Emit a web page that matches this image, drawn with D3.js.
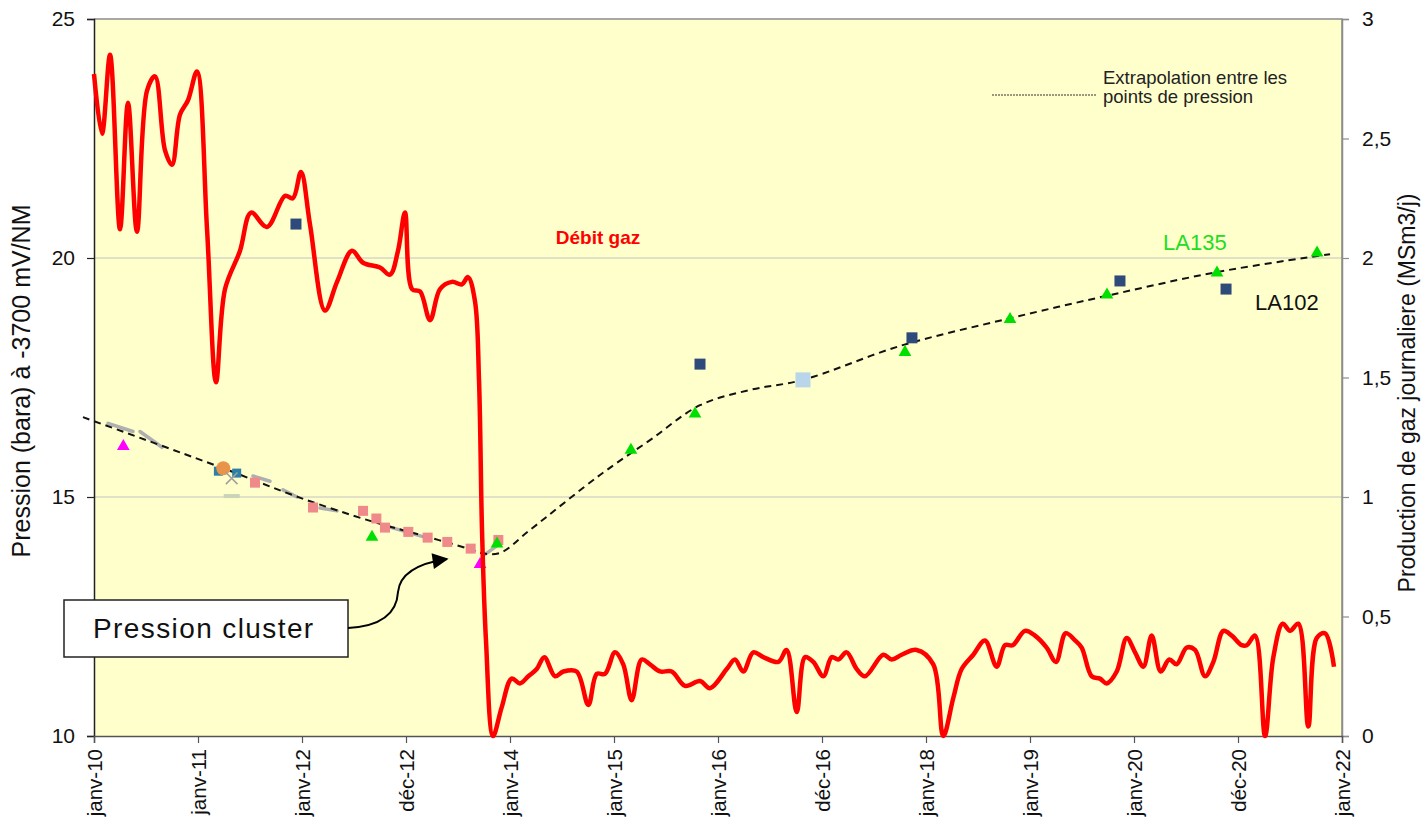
<!DOCTYPE html>
<html>
<head>
<meta charset="utf-8">
<script src="https://cdn.jsdelivr.net/npm/d3@7"></script>
<style>
  html, body { margin: 0; padding: 0; background: #fff; }
  svg { display: block; }
  text { font-family: "Liberation Sans", Arial, sans-serif; }
</style>
</head>
<body>
<svg id="chart" width="1422" height="824"></svg>
<script>
// Time is expressed in decimal years.
const xTickLabels = ["janv-10","janv-11","janv-12","déc-12","janv-14","janv-15","janv-16","déc-16","janv-18","janv-19","janv-20","déc-20","janv-22"];
const leftTicks = [10, 15, 20, 25];
const rightTicks = [0, 0.5, 1, 1.5, 2, 2.5, 3];

// Daily gas production (MSm3/j), right axis
const gasRate = [
  [2010.000, 2.77], [2010.077, 2.52], [2010.154, 2.85], [2010.250, 2.12], [2010.327, 2.65],
  [2010.413, 2.11], [2010.510, 2.70], [2010.587, 2.76], [2010.683, 2.45], [2010.750, 2.39],
  [2010.827, 2.60], [2010.904, 2.66], [2010.990, 2.78], [2011.087, 2.12], [2011.173, 1.48],
  [2011.260, 1.87], [2011.404, 2.03], [2011.510, 2.19], [2011.663, 2.13], [2011.837, 2.26],
  [2011.913, 2.25], [2011.990, 2.36], [2012.077, 2.14], [2012.221, 1.78], [2012.337, 1.90],
  [2012.481, 2.03], [2012.587, 1.98], [2012.750, 1.96], [2012.846, 1.93], [2012.923, 2.03],
  [2012.990, 2.19], [2013.058, 1.87], [2013.135, 1.86], [2013.231, 1.74], [2013.327, 1.87],
  [2013.442, 1.90], [2013.538, 1.89], [2013.596, 1.92], [2013.663, 1.82], [2013.702, 1.49],
  [2013.731, 0.86], [2013.769, 0.40], [2013.837, 0.00], [2013.920, 0.12], [2014.016, 0.24],
  [2014.096, 0.22], [2014.176, 0.25], [2014.257, 0.28], [2014.330, 0.33], [2014.433, 0.25],
  [2014.513, 0.27], [2014.641, 0.27], [2014.753, 0.13], [2014.834, 0.26], [2014.913, 0.26],
  [2015.010, 0.35], [2015.089, 0.30], [2015.170, 0.15], [2015.266, 0.32], [2015.346, 0.30],
  [2015.442, 0.27], [2015.555, 0.27], [2015.683, 0.21], [2015.827, 0.23], [2015.923, 0.20],
  [2016.084, 0.28], [2016.163, 0.32], [2016.243, 0.27], [2016.339, 0.35], [2016.436, 0.33],
  [2016.580, 0.31], [2016.660, 0.36], [2016.757, 0.10], [2016.837, 0.33], [2016.916, 0.31],
  [2017.013, 0.25], [2017.093, 0.33], [2017.157, 0.32], [2017.237, 0.35], [2017.334, 0.28],
  [2017.413, 0.25], [2017.589, 0.34], [2017.670, 0.32], [2017.766, 0.34], [2017.910, 0.36],
  [2018.070, 0.30], [2018.166, 0.00], [2018.263, 0.16], [2018.343, 0.28], [2018.455, 0.34],
  [2018.567, 0.40], [2018.679, 0.29], [2018.760, 0.38], [2018.834, 0.38], [2018.952, 0.44],
  [2019.048, 0.42], [2019.160, 0.37], [2019.250, 0.31], [2019.343, 0.43], [2019.433, 0.40],
  [2019.497, 0.37], [2019.593, 0.25], [2019.673, 0.24], [2019.737, 0.22], [2019.834, 0.27],
  [2019.930, 0.41], [2020.010, 0.35], [2020.090, 0.29], [2020.170, 0.42], [2020.257, 0.27],
  [2020.339, 0.32], [2020.410, 0.30], [2020.507, 0.37], [2020.587, 0.36], [2020.683, 0.25],
  [2020.763, 0.31], [2020.859, 0.44], [2020.940, 0.42], [2021.036, 0.38], [2021.084, 0.38],
  [2021.164, 0.42], [2021.260, 0.00], [2021.340, 0.33], [2021.430, 0.47], [2021.500, 0.44],
  [2021.580, 0.47], [2021.676, 0.04], [2021.757, 0.41], [2021.837, 0.43], [2021.923, 0.29]
];

// Pressure extrapolation between measurement points (bara), left axis
const extrapolation = [
  [2009.894, 16.67], [2011.243, 15.60], [2011.949, 15.01], [2012.686, 14.48], [2013.199, 14.17],
  [2013.615, 13.91], [2013.743, 13.82], [2013.904, 13.83], [2014.192, 14.31], [2014.865, 15.46],
  [2015.346, 16.19], [2015.827, 16.92], [2016.308, 17.24], [2016.817, 17.45], [2017.750, 18.16],
  [2018.808, 18.74], [2019.740, 19.21], [2020.808, 19.71], [2021.885, 20.08]
];

// Well pressure measurements (bara)
const la102 = [[2011.942, 20.71], [2015.827, 17.78], [2017.865, 18.33], [2019.865, 19.52], [2020.885, 19.35]];
const la135 = [[2012.673, 14.18], [2013.875, 14.04], [2015.163, 16.00], [2015.779, 16.76], [2017.798, 18.05],
               [2018.808, 18.74], [2019.740, 19.25], [2020.798, 19.71], [2021.760, 20.13]];
const magentaWell = [[2010.282, 16.08], [2013.712, 13.61]];
const pinkWell = [[2011.548, 15.30], [2012.106, 14.78], [2012.587, 14.71], [2012.715, 14.55],
                  [2012.798, 14.36], [2013.022, 14.27], [2013.208, 14.15], [2013.397, 14.06],
                  [2013.622, 13.92], [2013.888, 14.10]];
const tealWell = [[2011.196, 15.54], [2011.372, 15.50]];
const orangeWell = [[2011.243, 15.60]];
const crossWell = [[2011.324, 15.39]];
const paleDash = [[2011.324, 15.02]];
const lightBlueWell = [[2016.817, 17.45]];
// Short gauge recordings along the cluster trend (start/end pairs)
const gaugeRuns = [
  [[2010.135, 16.54], [2010.375, 16.37]],
  [[2010.442, 16.37], [2010.654, 16.04]],
  [[2011.529, 15.44], [2011.692, 15.33]],
  [[2011.817, 15.15], [2011.952, 15.00]],
  [[2012.173, 14.77], [2012.337, 14.71]],
  [[2012.846, 14.37], [2013.212, 14.14]],
  [[2013.760, 13.80], [2013.900, 14.02]]
];

const svg = d3.select("#chart");
const L = 94, R = 1342, T = 19, B = 736;

const x = d3.scaleLinear().domain([2010, 2022]).range([L, R]);
const yL = d3.scaleLinear().domain([10, 25]).range([B, T]);
const yR = d3.scaleLinear().domain([0, 3]).range([B, T]);

// plot area
svg.append("rect").attr("x", L).attr("y", T).attr("width", R - L).attr("height", B - T)
  .attr("fill", "#FFFFCC");

// horizontal gridlines
svg.append("g").selectAll("line").data([15, 20]).join("line")
  .attr("x1", L).attr("x2", R).attr("y1", d => yL(d)).attr("y2", d => yL(d))
  .attr("stroke", "#C4C4C4").attr("stroke-width", 1.2);

// frame: top and right in grey
svg.append("path").attr("d", `M${L},${T}H${R}V${B}`).attr("fill", "none")
  .attr("stroke", "#8C8C8C").attr("stroke-width", 1.5);

// left axis
const gL = svg.append("g").attr("transform", `translate(${L},0)`)
  .call(d3.axisLeft(yL).tickValues(leftTicks).tickSize(7).tickPadding(12).tickFormat(d3.format("d")));
gL.select(".domain").attr("stroke", "#222").attr("stroke-width", 1.5);
gL.selectAll(".tick line").attr("stroke", "#222").attr("stroke-width", 1.2);
gL.selectAll("text").attr("font-size", 21).attr("fill", "#111").attr("font-family", "Liberation Sans, Arial, sans-serif");

// right axis
const gR = svg.append("g").attr("transform", `translate(${R},0)`)
  .call(d3.axisRight(yR).tickValues(rightTicks).tickSize(7).tickPadding(13)
    .tickFormat(d => String(d).replace(".", ",")));
gR.select(".domain").attr("stroke", "#8C8C8C").attr("stroke-width", 1.5);
gR.selectAll(".tick line").attr("stroke", "#8C8C8C").attr("stroke-width", 1.2);
gR.selectAll("text").attr("font-size", 21).attr("fill", "#111").attr("font-family", "Liberation Sans, Arial, sans-serif");

// bottom axis
const xTickValues = xTickLabels.map((_, i) => 2010 + i);
const gB = svg.append("g").attr("transform", `translate(0,${B})`)
  .call(d3.axisBottom(x).tickValues(xTickValues).tickSize(7).tickFormat((d, i) => xTickLabels[i]));
gB.select(".domain").attr("stroke", "#555").attr("stroke-width", 1.5);
gB.selectAll(".tick line").attr("stroke", "#555").attr("stroke-width", 1.2);
gB.selectAll("text")
  .attr("font-size", 20.5).attr("fill", "#111").attr("font-family", "Liberation Sans, Arial, sans-serif")
  .attr("transform", "rotate(-90)")
  .attr("text-anchor", "end")
  .attr("x", -13).attr("y", 0).attr("dy", "0.35em");

// axis titles
svg.append("text").attr("transform", `translate(30,381) rotate(-90)`)
  .attr("text-anchor", "middle").attr("font-size", 25).attr("fill", "#111")
  .text("Pression (bara) à -3700 mV/NM");
svg.append("text").attr("transform", `translate(1415,393) rotate(-90)`)
  .attr("text-anchor", "middle").attr("font-size", 23).attr("fill", "#111")
  .text("Production de gaz journaliere (MSm3/j)");

// gauge recording runs
svg.append("g").selectAll("line").data(gaugeRuns).join("line")
  .attr("x1", d => x(d[0][0])).attr("y1", d => yL(d[0][1]))
  .attr("x2", d => x(d[1][0])).attr("y2", d => yL(d[1][1]))
  .attr("stroke", "#AFAFAF").attr("stroke-width", 3.5).attr("stroke-linecap", "round");

// pale marker
svg.append("g").selectAll("line").data(paleDash).join("line")
  .attr("x1", d => x(d[0]) - 8).attr("x2", d => x(d[0]) + 8)
  .attr("y1", d => yL(d[1])).attr("y2", d => yL(d[1]))
  .attr("stroke", "#C9D3B8").attr("stroke-width", 4);

// extrapolation (dashed)
const lineL = d3.line().x(d => x(d[0])).y(d => yL(d[1])).curve(d3.curveCatmullRom.alpha(0.5));
svg.append("path").datum(extrapolation).attr("d", lineL)
  .attr("fill", "none").attr("stroke", "#111").attr("stroke-width", 2).attr("stroke-dasharray", "7,5");

// markers
const sq = (data, size, color) => svg.append("g").selectAll("rect").data(data).join("rect")
  .attr("x", d => x(d[0]) - size / 2).attr("y", d => yL(d[1]) - size / 2)
  .attr("width", size).attr("height", size).attr("fill", color);
const tri = (data, size, color) => svg.append("g").selectAll("path").data(data).join("path")
  .attr("d", d3.symbol(d3.symbolTriangle, size))
  .attr("transform", d => `translate(${x(d[0])},${yL(d[1]) + 1})`).attr("fill", color);

sq(pinkWell, 10, "#F08A8A");
sq(tealWell, 9, "#2E7FA6");
sq(lightBlueWell, 15, "#B9D5EA");
sq(la102, 11, "#2E4A7A");
tri(la135, 70, "#00E000");
tri(magentaWell, 70, "#FF00FF");
svg.append("g").selectAll("circle").data(orangeWell).join("circle")
  .attr("cx", d => x(d[0])).attr("cy", d => yL(d[1])).attr("r", 7).attr("fill", "#E8944A");
svg.append("g").selectAll("path").data(crossWell).join("path")
  .attr("d", d3.symbol(d3.symbolX, 90))
  .attr("transform", d => `translate(${x(d[0])},${yL(d[1])})`)
  .attr("stroke", "#A0A0A0").attr("stroke-width", 1.6).attr("fill", "none");

// gas production
const lineR = d3.line().x(d => x(d[0])).y(d => yR(d[1])).curve(d3.curveCatmullRom.alpha(0.5));
svg.append("path").datum(gasRate).attr("d", lineR)
  .attr("fill", "none").attr("stroke", "#FF0000").attr("stroke-width", 4.5)
  .attr("stroke-linejoin", "round");

// labels
svg.append("text").attr("x", 598).attr("y", 244).attr("text-anchor", "middle")
  .attr("font-size", 19).attr("font-weight", "bold").attr("fill", "#FF0000").text("Débit gaz");
svg.append("text").attr("x", 1163).attr("y", 250).attr("font-size", 22).attr("fill", "#22DD22").text("LA135");
svg.append("text").attr("x", 1255).attr("y", 310).attr("font-size", 22).attr("fill", "#111").text("LA102");

// legend for the extrapolation
svg.append("line").attr("x1", 992).attr("x2", 1096).attr("y1", 95).attr("y2", 95)
  .attr("stroke", "#333").attr("stroke-width", 1).attr("stroke-dasharray", "2,1");
const lg = svg.append("text").attr("font-size", 18.5).attr("fill", "#222")
  .attr("font-family", "Lato, 'Open Sans', sans-serif");
lg.append("tspan").attr("x", 1103).attr("y", 84).text("Extrapolation entre les");
lg.append("tspan").attr("x", 1103).attr("y", 103).text("points de pression");

// callout
svg.append("rect").attr("x", 64).attr("y", 600).attr("width", 284).attr("height", 57)
  .attr("fill", "#fff").attr("stroke", "#222").attr("stroke-width", 1.5);
svg.append("text").attr("x", 93).attr("y", 638).attr("font-size", 28).attr("fill", "#111")
  .attr("letter-spacing", "1.4px").attr("font-family", "'DejaVu Sans', Verdana, sans-serif")
  .text("Pression cluster");
svg.append("defs").append("marker").attr("id", "arrow").attr("viewBox", "0 0 10 10")
  .attr("refX", 9).attr("refY", 5).attr("markerWidth", 20).attr("markerHeight", 16)
  .attr("orient", "auto-start-reverse").attr("markerUnits", "userSpaceOnUse")
  .append("path").attr("d", "M0,0L10,5L0,10z").attr("fill", "#000");
svg.append("path").attr("d", "M348,628 C385,626 397,610 398,592 C400,572 420,563 447,559")
  .attr("fill", "none").attr("stroke", "#000").attr("stroke-width", 2)
  .attr("marker-end", "url(#arrow)");
</script>
</body>
</html>
